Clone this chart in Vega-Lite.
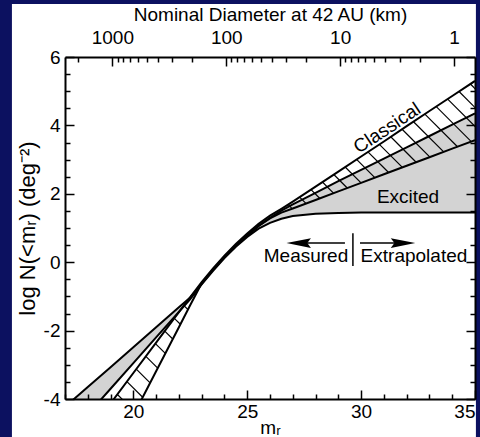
{
  "$schema": "https://vega.github.io/schema/vega-lite/v6.json",
  "width": 410,
  "height": 342,
  "autosize": "none",
  "padding": {"left": 65, "top": 57, "right": 5, "bottom": 38},
  "background": "#0c1160",
  "config": {
    "font": "Liberation Sans",
    "view": {"stroke": null},
    "axis": {
      "grid": false,
      "domainColor": "black",
      "domainWidth": 2,
      "tickColor": "black",
      "tickWidth": 1.5,
      "labelColor": "black",
      "labelFont": "Liberation Sans",
      "labelFontSize": 19,
      "titleColor": "black",
      "titleFont": "Liberation Sans",
      "titleFontSize": 19,
      "titleFontWeight": "normal",
      "labelOverlap": false,
      "labelFlush": false
    }
  },
  "datasets": {
    "curves": [
      {"m": 17, "e_hi": -4.23, "e_lo": -5.2, "c_hi": -5.83, "c_lo": -8.35},
      {"m": 18, "e_hi": -3.65, "e_lo": -4.45, "c_hi": -4.94, "c_lo": -7.06},
      {"m": 19, "e_hi": -3.07, "e_lo": -3.7, "c_hi": -4.13, "c_lo": -5.77},
      {"m": 20, "e_hi": -2.49, "e_lo": -2.95, "c_hi": -3.24, "c_lo": -4.48},
      {"m": 21, "e_hi": -1.9, "e_lo": -2.2, "c_hi": -2.35, "c_lo": -3.19},
      {"m": 22, "e_hi": -1.32, "e_lo": -1.45, "c_hi": -1.46, "c_lo": -1.9},
      {"m": 22.5, "e_hi": -1.03, "e_lo": -1.08, "c_hi": -1.02, "c_lo": -1.25},
      {"m": 23, "e_hi": -0.63, "e_lo": -0.65, "c_hi": -0.58, "c_lo": -0.62},
      {"m": 23.5, "e_hi": -0.22, "e_lo": -0.25, "c_hi": -0.18, "c_lo": -0.22},
      {"m": 24, "e_hi": 0.15, "e_lo": 0.12, "c_hi": 0.19, "c_lo": 0.16},
      {"m": 24.5, "e_hi": 0.49, "e_lo": 0.45, "c_hi": 0.53, "c_lo": 0.49},
      {"m": 25, "e_hi": 0.79, "e_lo": 0.74, "c_hi": 0.84, "c_lo": 0.79},
      {"m": 25.5, "e_hi": 1.06, "e_lo": 0.98, "c_hi": 1.12, "c_lo": 1.06},
      {"m": 26, "e_hi": 1.3, "e_lo": 1.15, "c_hi": 1.36, "c_lo": 1.28},
      {"m": 26.5, "e_hi": 1.51, "e_lo": 1.27, "c_hi": 1.56, "c_lo": 1.45},
      {"m": 27, "e_hi": 1.69, "e_lo": 1.35, "c_hi": 1.77, "c_lo": 1.57},
      {"m": 28, "e_hi": 2.03, "e_lo": 1.42, "c_hi": 2.21, "c_lo": 1.82},
      {"m": 29, "e_hi": 2.37, "e_lo": 1.44, "c_hi": 2.65, "c_lo": 2.07},
      {"m": 30, "e_hi": 2.7, "e_lo": 1.45, "c_hi": 3.09, "c_lo": 2.32},
      {"m": 31, "e_hi": 3.03, "e_lo": 1.45, "c_hi": 3.53, "c_lo": 2.57},
      {"m": 32, "e_hi": 3.36, "e_lo": 1.45, "c_hi": 3.98, "c_lo": 2.82},
      {"m": 33, "e_hi": 3.69, "e_lo": 1.45, "c_hi": 4.42, "c_lo": 3.07},
      {"m": 34, "e_hi": 4.02, "e_lo": 1.45, "c_hi": 4.86, "c_lo": 3.32},
      {"m": 35, "e_hi": 4.35, "e_lo": 1.45, "c_hi": 5.3, "c_lo": 3.57}
    ],
    "hatch": [
      {"m0": 19.3, "n0": -3.867, "m1": 20.076, "n1": -4.379},
      {"m0": 19.72, "n0": -3.493, "m1": 20.41, "n1": -3.948},
      {"m0": 20.13, "n0": -3.128, "m1": 20.736, "n1": -3.528},
      {"m0": 20.55, "n0": -2.754, "m1": 21.07, "n1": -3.097},
      {"m0": 20.97, "n0": -2.38, "m1": 21.404, "n1": -2.666},
      {"m0": 21.38, "n0": -2.015, "m1": 21.73, "n1": -2.246},
      {"m0": 21.8, "n0": -1.642, "m1": 22.064, "n1": -1.815},
      {"m0": 22.22, "n0": -1.268, "m1": 22.398, "n1": -1.384},
      {"m0": 22.63, "n0": -0.903, "m1": 22.725, "n1": -0.962},
      {"m0": 26.8, "n0": 1.682, "m1": 26.972, "n1": 1.568},
      {"m0": 27.3, "n0": 1.903, "m1": 27.577, "n1": 1.718},
      {"m0": 27.8, "n0": 2.123, "m1": 28.182, "n1": 1.869},
      {"m0": 28.3, "n0": 2.344, "m1": 28.787, "n1": 2.019},
      {"m0": 28.8, "n0": 2.564, "m1": 29.392, "n1": 2.17},
      {"m0": 29.3, "n0": 2.785, "m1": 29.997, "n1": 2.321},
      {"m0": 29.8, "n0": 3.005, "m1": 30.602, "n1": 2.471},
      {"m0": 30.3, "n0": 3.226, "m1": 31.207, "n1": 2.622},
      {"m0": 30.8, "n0": 3.446, "m1": 31.812, "n1": 2.773},
      {"m0": 31.3, "n0": 3.667, "m1": 32.417, "n1": 2.923},
      {"m0": 31.8, "n0": 3.887, "m1": 33.022, "n1": 3.074},
      {"m0": 32.3, "n0": 4.108, "m1": 33.627, "n1": 3.225},
      {"m0": 32.8, "n0": 4.328, "m1": 34.232, "n1": 3.375},
      {"m0": 33.3, "n0": 4.549, "m1": 34.837, "n1": 3.526},
      {"m0": 33.8, "n0": 4.769, "m1": 35.442, "n1": 3.677},
      {"m0": 34.3, "n0": 4.99, "m1": 36.047, "n1": 3.827},
      {"m0": 34.8, "n0": 5.21, "m1": 36.652, "n1": 3.978}
    ],
    "arrows": [
      {"m0": 27.2, "m1": 29.29, "n": 0.56},
      {"m0": 29.95, "m1": 31.95, "n": 0.56}
    ],
    "heads": [
      {"m": 27.26, "n": 0.56, "dir": "left"},
      {"m": 31.84, "n": 0.56, "dir": "right"}
    ],
    "divider": [{"m": 29.64, "n0": 0.85, "n1": -0.11}],
    "labels": [
      {"text": "Excited", "m": 32.06, "n": 1.91},
      {"text": "Measured", "m": 27.58, "n": 0.18},
      {"text": "Extrapolated", "m": 32.32, "n": 0.18}
    ],
    "classical": [{"text": "Classical", "m": 31.14, "n": 3.92}],
    "diam": [{"d": 1, "n": 0}]
  },
  "layer": [
    {
      "data": {"values": [{"part": "panel"}]},
      "mark": {"type": "rect", "fill": "white", "clip": false},
      "encoding": {
        "x": {"datum": 14.67, "type": "quantitative", "scale": {"domain": [17, 35]}, "axis": null},
        "x2": {"datum": 35.04},
        "y": {"datum": 7.55, "type": "quantitative", "scale": {"domain": [-4, 6]}, "axis": null},
        "y2": {"datum": -5.4}
      }
    },
    {
      "data": {"name": "curves"},
      "mark": {"type": "area", "fill": "#d3d3d3", "clip": true},
      "encoding": {
        "x": {
          "field": "m", "type": "quantitative",
          "scale": {"domain": [17, 35]},
          "axis": {
            "orient": "bottom",
            "zindex": 2,
            "title": "mᵣ",
            "values": [17,18,19,20,21,22,23,24,25,26,27,28,29,30,31,32,33,34,35],
            "labelExpr": "datum.value % 5 === 0 ? '' + datum.value : ''",
            "labelFlush": true,
            "tickSize": {"condition": {"test": "datum.value % 5 === 0", "value": -9}, "value": -5},
            "labelPadding": 12,
            "titlePadding": -7
          }
        },
        "y": {
          "field": "e_hi", "type": "quantitative",
          "scale": {"domain": [-4, 6]},
          "axis": {
            "orient": "left",
            "zindex": 2,
            "title": "log N(<mᵣ)     (deg⁻²)",
            "titleFontSize": 22,
            "values": [-4,-3.5,-3,-2.5,-2,-1.5,-1,-0.5,0,0.5,1,1.5,2,2.5,3,3.5,4,4.5,5,5.5,6],
            "labelExpr": "datum.value % 2 === 0 ? '' + datum.value : ''",
            "tickSize": {"condition": {"test": "datum.value % 2 === 0", "value": -9}, "value": -5},
            "labelPadding": 14,
            "titlePadding": 4
          }
        },
        "y2": {"field": "e_lo"}
      }
    },
    {
      "data": {"name": "hatch"},
      "mark": {"type": "rule", "stroke": "black", "strokeWidth": 1.2, "clip": true},
      "encoding": {
        "x": {"field": "m0", "type": "quantitative", "scale": {"domain": [17, 35]}, "axis": null},
        "x2": {"field": "m1"},
        "y": {"field": "n0", "type": "quantitative", "scale": {"domain": [-4, 6]}, "axis": null},
        "y2": {"field": "n1"}
      }
    },
    {
      "data": {"name": "curves"},
      "transform": [{"fold": ["e_hi", "e_lo", "c_hi", "c_lo"], "as": ["curve", "n"]}],
      "mark": {"type": "line", "stroke": "black", "strokeWidth": 2, "clip": true},
      "encoding": {
        "x": {"field": "m", "type": "quantitative", "scale": {"domain": [17, 35]}, "axis": null},
        "y": {"field": "n", "type": "quantitative", "scale": {"domain": [-4, 6]}, "axis": null},
        "detail": {"field": "curve"}
      }
    },
    {
      "data": {"name": "arrows"},
      "mark": {"type": "rule", "stroke": "black", "strokeWidth": 1.5},
      "encoding": {
        "x": {"field": "m0", "type": "quantitative", "scale": {"domain": [17, 35]}, "axis": null},
        "x2": {"field": "m1"},
        "y": {"field": "n", "type": "quantitative", "scale": {"domain": [-4, 6]}, "axis": null}
      }
    },
    {
      "data": {"name": "heads"},
      "mark": {"type": "point", "filled": true, "color": "black", "opacity": 1, "size": 600},
      "encoding": {
        "x": {"field": "m", "type": "quantitative", "scale": {"domain": [17, 35]}, "axis": null},
        "y": {"field": "n", "type": "quantitative", "scale": {"domain": [-4, 6]}, "axis": null},
        "shape": {
          "field": "dir", "type": "nominal", "legend": null,
          "scale": {"domain": ["left", "right"], "range": ["M-1,0L1,-0.4L0.7,0L1,0.4Z", "M1,0L-1,-0.4L-0.7,0L-1,0.4Z"]}
        }
      }
    },
    {
      "data": {"name": "divider"},
      "mark": {"type": "rule", "stroke": "black", "strokeWidth": 1.5},
      "encoding": {
        "x": {"field": "m", "type": "quantitative", "scale": {"domain": [17, 35]}, "axis": null},
        "y": {"field": "n0", "type": "quantitative", "scale": {"domain": [-4, 6]}, "axis": null},
        "y2": {"field": "n1"}
      }
    },
    {
      "data": {"name": "labels"},
      "mark": {"type": "text", "fontSize": 19, "color": "black", "align": "center", "baseline": "middle"},
      "encoding": {
        "x": {"field": "m", "type": "quantitative", "scale": {"domain": [17, 35]}, "axis": null},
        "y": {"field": "n", "type": "quantitative", "scale": {"domain": [-4, 6]}, "axis": null},
        "text": {"field": "text"}
      }
    },
    {
      "data": {"name": "classical"},
      "mark": {"type": "text", "fontSize": 19, "color": "black", "align": "center", "baseline": "middle", "angle": 326.5},
      "encoding": {
        "x": {"field": "m", "type": "quantitative", "scale": {"domain": [17, 35]}, "axis": null},
        "y": {"field": "n", "type": "quantitative", "scale": {"domain": [-4, 6]}, "axis": null},
        "text": {"field": "text"}
      }
    },
    {
      "data": {"name": "diam"},
      "mark": {"type": "point", "opacity": 0},
      "encoding": {
        "x": {
          "field": "d", "type": "quantitative",
          "scale": {"type": "log", "domain": [0.6546, 2606], "reverse": true},
          "axis": {
            "orient": "top",
            "zindex": 2,
            "title": "Nominal Diameter at 42 AU (km)",
            "values": [2000,1000,900,800,700,600,500,400,300,200,100,90,80,70,60,50,40,30,20,10,9,8,7,6,5,4,3,2,1],
            "labelExpr": "(datum.value == 1000 || datum.value == 100 || datum.value == 10 || datum.value == 1) ? '' + datum.value : ''",
            "tickSize": {"condition": {"test": "datum.value == 1000 || datum.value == 100 || datum.value == 10 || datum.value == 1", "value": -9}, "value": -5},
            "labelPadding": 19,
            "titlePadding": 0
          }
        },
        "y": {
          "field": "n", "type": "quantitative",
          "scale": {"domain": [-4, 6]},
          "axis": {
            "orient": "right",
            "zindex": 2,
            "title": null,
            "values": [-4,-3.5,-3,-2.5,-2,-1.5,-1,-0.5,0,0.5,1,1.5,2,2.5,3,3.5,4,4.5,5,5.5,6],
            "labels": false,
            "tickSize": {"condition": {"test": "datum.value % 2 === 0", "value": -9}, "value": -5}
          }
        }
      }
    }
  ],
  "resolve": {"scale": {"x": "independent", "y": "independent"}}
}
